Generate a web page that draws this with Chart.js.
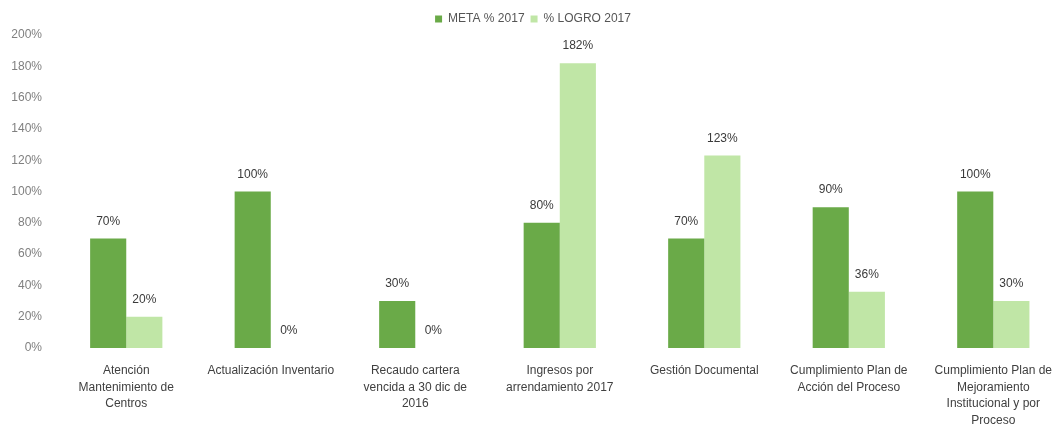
<!DOCTYPE html>
<html>
<head>
<meta charset="utf-8">
<script src="https://cdn.jsdelivr.net/npm/chart.js@4/dist/chart.umd.min.js"></script>
<style>
html,body{margin:0;padding:0;background:#fff;overflow:hidden;}
#wrap{width:1066px;height:439px;}
</style>
</head>
<body>
<div id="wrap"><canvas id="c" width="1066" height="439"></canvas></div>
<script>
const categories = [
  ["Atención", "Mantenimiento de", "Centros"],
  ["Actualización Inventario"],
  ["Recaudo cartera", "vencida a 30 dic de", "2016"],
  ["Ingresos por", "arrendamiento 2017"],
  ["Gestión Documental"],
  ["Cumplimiento Plan de", "Acción del Proceso"],
  ["Cumplimiento Plan de", "Mejoramiento", "Institucional y por", "Proceso"]
];
const metaValues = [70, 100, 30, 80, 70, 90, 100];
const logroValues = [20, 0, 0, 182, 123, 36, 30];
const seriesNames = ["META % 2017", "% LOGRO 2017"];
const yTicks = [0, 20, 40, 60, 80, 100, 120, 140, 160, 180, 200];

const FONT = "'Liberation Sans', Arial, sans-serif";

const labelPlugin = {
  id: 'barLabels',
  afterDatasetsDraw(chart) {
    const ctx = chart.ctx;
    ctx.save();
    ctx.font = "12px " + FONT;
    ctx.fillStyle = "#3a3a3a";
    ctx.textAlign = "center";
    ctx.textBaseline = "middle";
    chart.data.datasets.forEach((ds, i) => {
      const meta = chart.getDatasetMeta(i);
      meta.data.forEach((bar, j) => {
        ctx.fillText(ds.data[j] + "%", bar.x, bar.y - 17);
      });
    });
    ctx.restore();
  }
};

new Chart(document.getElementById('c'), {
  type: 'bar',
  data: {
    labels: categories,
    datasets: [
      { label: seriesNames[0], data: metaValues, backgroundColor: "#6aaa48", categoryPercentage: 0.5, barPercentage: 1.0 },
      { label: seriesNames[1], data: logroValues, backgroundColor: "#c0e6a6", categoryPercentage: 0.5, barPercentage: 1.0 }
    ]
  },
  options: {
    responsive: false,
    animation: false,
    layout: { padding: { top: 7, bottom: 0, left: 0, right: 0 } },
    plugins: {
      legend: {
        display: true,
        position: 'top',
        labels: {
          boxWidth: 7, boxHeight: 7, padding: 6,
          color: "#555", font: { family: FONT, size: 12 }
        }
      },
      tooltip: { enabled: false }
    },
    scales: {
      x: {
        afterFit(scale) { scale.height = 91; },
        grid: { display: false, drawTicks: false },
        border: { display: false },
        ticks: {
          color: "#404040", maxRotation: 0, autoSkip: false, padding: 14,
          font: { family: FONT, size: 12, lineHeight: 1.4 }
        }
      },
      y: {
        min: 0, max: 200,
        afterFit(scale) { scale.width = 54; },
        afterBuildTicks(scale) { scale.ticks = yTicks.map(v => ({ value: v })); },
        grid: { display: false, drawTicks: false },
        border: { display: false },
        ticks: {
          color: "#808080", padding: 12,
          font: { family: FONT, size: 12 },
          callback: v => v + "%"
        }
      }
    }
  },
  plugins: [labelPlugin]
});
</script>
</body>
</html>
